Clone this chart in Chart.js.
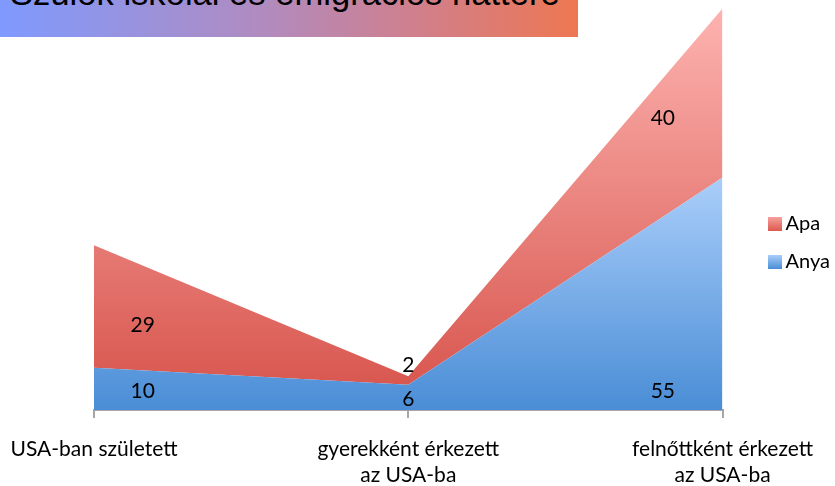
<!DOCTYPE html>
<html>
<head>
<meta charset="utf-8">
<script src="https://cdn.jsdelivr.net/npm/chart.js@4.4.0/dist/chart.umd.min.js"></script>
<style>
  html, body { margin: 0; padding: 0; background: #fff; }
  #wrap { position: relative; width: 835px; height: 486px; overflow: hidden; }
  #banner {
    position: absolute; left: 0; top: 0; width: 578px; height: 37px; overflow: hidden;
    background: linear-gradient(to right, #7f9afe 0%, #b08bc0 45%, #d07f8c 72%, #ee7752 100%);
  }
  #banner span {
    position: absolute; left: 10px; top: -24px; line-height: 34px; white-space: nowrap;
    font-family: "Liberation Sans", Arial, sans-serif; font-size: 34.6px; color: #000;
  }
</style>
</head>
<body>
<div id="wrap">
  <canvas id="chart" width="835" height="486"></canvas>
  <div id="banner"><span>Szülők iskolai és emigrációs háttere</span></div>
</div>
<script>
// chart data
const categories = [
  'USA-ban született',
  ['gyerekként érkezett', 'az USA-ba'],
  ['felnőttként érkezett', 'az USA-ba']
];
const anyaValues = [10, 6, 55];
const apaValues = [29, 2, 40];
const yMax = 97;

const FONT = 'Lato, "Open Sans", sans-serif';
const FONT_SIZE = 21;

function verticalFill(ctx, light, dark, topValue) {
  const chart = ctx.chart;
  const area = chart.chartArea;
  if (!area) return dark;
  const y = chart.scales.y;
  const top = y.getPixelForValue(topValue);
  const g = chart.ctx.createLinearGradient(0, top, 0, area.bottom);
  g.addColorStop(0, light);
  g.addColorStop(1, dark);
  return g;
}

function legendSwatch(light, dark) {
  const c = document.createElement('canvas');
  c.width = 14; c.height = 14;
  const x = c.getContext('2d');
  const g = x.createLinearGradient(0, 0, 0, 14);
  g.addColorStop(0, light);
  g.addColorStop(1, dark);
  x.fillStyle = g;
  x.fillRect(0, 0, 14, 14);
  return c;
}

const anyaMax = Math.max(...anyaValues);
const totalMax = Math.max(...anyaValues.map((v, i) => v + apaValues[i]));

// data labels placed inside the areas
const areaLabels = {
  id: 'areaLabels',
  afterDatasetsDraw(chart) {
    const ctx = chart.ctx;
    const xs = chart.scales.x, ys = chart.scales.y;
    const n = categories.length;
    const step = xs.getPixelForValue(1) - xs.getPixelForValue(0);
    ctx.save();
    ctx.font = FONT_SIZE + 'px ' + FONT;
    ctx.fillStyle = '#000';
    ctx.textAlign = 'center';
    ctx.textBaseline = 'middle';
    for (let i = 0; i < n; i++) {
      let x = xs.getPixelForValue(i);
      if (i === 0) x += step * 0.155;
      if (i === n - 1) x -= step * 0.19;
      const base = ys.getPixelForValue(0);
      const blueTop = ys.getPixelForValue(anyaValues[i]);
      const redTop = ys.getPixelForValue(anyaValues[i] + apaValues[i]);
      const blueBand = base - blueTop;
      ctx.fillText(String(anyaValues[i]), x, base - Math.min(blueBand / 2 - 2, 19));
      const redBand = blueTop - redTop;
      const ry = redBand < 20 ? redTop - 11 : blueTop - redBand * 0.35;
      ctx.fillText(String(apaValues[i]), x, ry);
    }
    ctx.restore();
  }
};

new Chart(document.getElementById('chart'), {
  type: 'line',
  data: {
    labels: categories,
    datasets: [
      {
        label: 'Anya',
        data: anyaValues,
        fill: 'origin',
        borderWidth: 0,
        pointRadius: 0,
        tension: 0,
        backgroundColor: ctx => verticalFill(ctx, '#aacefa', '#4a8dd6', anyaMax),
        swatch: legendSwatch('#aacefa', '#4a8dd6')
      },
      {
        label: 'Apa',
        data: apaValues,
        fill: '-1',
        borderWidth: 0,
        pointRadius: 0,
        tension: 0,
        backgroundColor: ctx => verticalFill(ctx, '#fdb3b0', '#d6524a', totalMax),
        swatch: legendSwatch('#f7a09b', '#dc5a50')
      }
    ]
  },
  options: {
    responsive: false,
    animation: false,
    layout: { padding: { left: 94, top: 0, right: -5, bottom: 0 } },
    plugins: {
      tooltip: { enabled: false },
      legend: {
        position: 'right',
        reverse: true,
        labels: {
          color: '#000',
          font: { family: FONT, size: 20 },
          padding: 18,
          boxWidth: 1,
          usePointStyle: true,
          generateLabels(chart) {
            return chart.data.datasets.map((ds, i) => ({
              text: ds.label,
              pointStyle: ds.swatch,
              fontColor: '#000',
              datasetIndex: i,
              hidden: false,
              lineWidth: 0
            }));
          }
        }
      }
    },
    scales: {
      x: {
        offset: false,
        border: { display: true, color: '#a6a6a6', width: 2 },
        grid: { display: true, drawOnChartArea: false, drawTicks: true, tickLength: 8, color: '#a6a6a6', lineWidth: 2 },
        ticks: {
          color: '#000',
          font: { family: FONT, size: FONT_SIZE, lineHeight: 1.25 },
          padding: 18,
          maxRotation: 0,
          autoSkip: false
        },
        afterFit(scale) {
          scale.height = 76;
          scale.paddingLeft = 0;
          scale.paddingRight = 0;
        }
      },
      y: {
        position: 'right',
        stacked: true,
        min: 0,
        max: yMax,
        grid: { display: false },
        border: { display: false },
        ticks: { display: false },
        afterFit(scale) { scale.width = 34; }
      }
    }
  },
  plugins: [areaLabels]
});
</script>
</body>
</html>
